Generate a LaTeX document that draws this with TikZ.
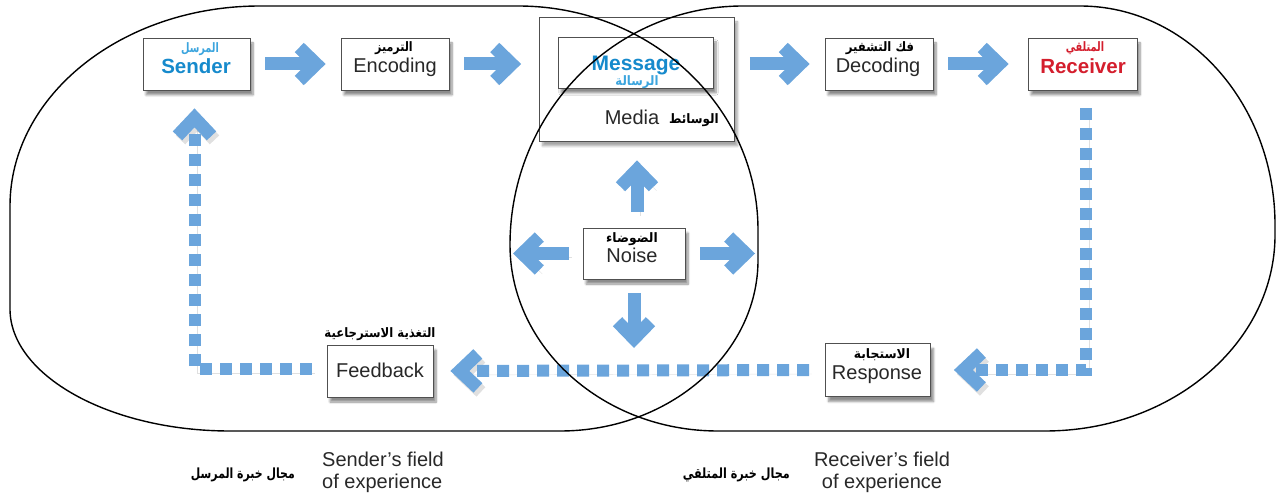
\documentclass[tikz,border=0pt]{standalone}
\usepackage{graphicx}
\usepackage{fontspec}
\setmainfont{Liberation Sans}
\newfontfamily\arabicfont[Script=Arabic]{DejaVu Sans}
\TeXXeTstate=1
\newcommand\arw[2][0.85]{\scalebox{#1}[1]{\beginR #2\endR}}
\usetikzlibrary{arrows.meta,shadows.blur}
\definecolor{flowblue}{RGB}{107,165,220}
\definecolor{sendblue}{RGB}{22,138,204}
\definecolor{sendblueA}{RGB}{60,165,222}
\definecolor{recred}{RGB}{212,30,45}
\definecolor{txtgray}{RGB}{40,40,40}
\definecolor{boxgray}{RGB}{80,80,80}
\tikzset{
  box/.style={draw=boxgray, line width=0.8pt, fill=white, inner sep=0pt,
    minimum width=#1, minimum height=52pt,
    blur shadow={shadow xshift=3pt, shadow yshift=-5pt, shadow blur steps=8, shadow opacity=45}},
  box/.default=107pt,
  ar/.style={font=\arabicfont\bfseries\fontsize{13}{13}\selectfont, inner sep=0pt, anchor=base, text=black},
  en/.style={font=\fontsize{20}{20}\selectfont, inner sep=0pt, anchor=base, text=txtgray},
  enb/.style={font=\bfseries\fontsize{20.5}{20.5}\selectfont, inner sep=0pt, anchor=base},
  arrshadow/.style={preaction={draw=black, draw opacity=0.12, transform canvas={shift={(3pt,-4pt)}}}},
  flow/.style={arrshadow, draw=flowblue, line width=13pt, -{Straight Barb[length=17pt,width=33pt,line width=13pt]},
    shorten <=15pt, shorten >=15pt},
  dflow/.style={arrshadow, draw=flowblue, line width=12pt, dash pattern=on 12pt off 8pt,
    -{Straight Barb[length=18pt,width=34pt,line width=13pt]}},
  field/.style={draw=black, line width=1.4pt}
}
\begin{document}
\begin{tikzpicture}[x=1pt,y=-1pt]
\useasboundingbox (0,0) rectangle (1279,494);
% boxes
\node[box] (sender) at (196.5,64) {};
\node[box=108pt] (encoding) at (395,64) {};
\node[draw=boxgray, line width=0.8pt, fill=white, minimum width=195pt, minimum height=124pt,
  blur shadow={shadow xshift=3pt, shadow yshift=-5pt, shadow blur steps=8, shadow opacity=35}] (media) at (637,79) {};
\node[box=155pt, minimum height=51pt] (message) at (635.5,62.5) {};
\node[box=108pt] (decoding) at (879,64) {};
\node[box=109pt] (receiver) at (1082.5,64) {};
\node[box=102pt, minimum height=51pt] (noise) at (634,253.5) {};
\node[box=106pt] (feedback) at (380,371) {};
\node[box=105pt, minimum height=53pt] (response) at (878,370) {};
% texts
\node[ar, text=sendblueA] (senderA) at (200,53) {\arw[0.75]{المرسل}};
\node[enb, text=sendblue] (senderE) at (196,74) {Sender};
\node[ar] (encodingA) at (394,52) {\arw{الترميز}};
\node[en] (encodingE) at (395,73) {Encoding};
\node[enb, text=sendblue, font=\bfseries\fontsize{21}{21}\selectfont] (messageE) at (636,71) {Message};
\node[ar, text=sendblueA] (messageA) at (637,86) {\arw[0.9]{الرسالة}};
\node[en] (mediaE) at (632,125) {Media};
\node[ar] (mediaA) at (694,124) {\arw[0.92]{الوسائط}};
\node[ar] (decodingA) at (880,52) {\arw[0.9]{فك التشفير}};
\node[en] (decodingE) at (878,73) {Decoding};
\node[ar, text=recred] (receiverA) at (1085,52) {\arw[0.75]{المتلقي}};
\node[enb, text=recred] (receiverE) at (1083,74) {Receiver};
\node[ar] (noiseA) at (632,243) {\arw[0.95]{الضوضاء}};
\node[en] (noiseE) at (632,263) {Noise};
\node[ar] (feedbackA) at (380,337) {\arw[0.9]{التغذية الاسترجاعية}};
\node[en] (feedbackE) at (380,377) {Feedback};
\node[ar] (responseA) at (882,358) {\arw[0.95]{الاستجابة}};
\node[en] (responseE) at (877,379) {Response};
\node[en, align=left, anchor=base west, font=\fontsize{20}{22}\selectfont] (sfield) at (322,488) {Sender’s field\\of experience};
\node[ar, font=\arabicfont\bfseries\fontsize{14}{14}\selectfont, anchor=base east] (sfieldA) at (295,478) {\arw[0.78]{مجال خبرة المرسل}};
\node[en, align=center, font=\fontsize{20}{22}\selectfont] (rfield) at (882,488) {Receiver’s field\\of experience};
\node[ar, font=\arabicfont\bfseries\fontsize{14}{14}\selectfont, anchor=base east] (rfieldA) at (790,478) {\arw[0.8]{مجال خبرة المتلقي}};
% free ends of noise arrows
\coordinate (nl) at (513,253.5);
\coordinate (nr) at (755,253.5);
\coordinate (nd) at (634,348);
% solid arrows
\draw[flow] (sender.east) -- (encoding.west);
\draw[flow, shorten >=18pt] (encoding.east) -- (encoding.east -| media.west);
\draw[flow] (decoding.west -| media.east) -- (decoding.west);
\draw[flow, shorten >=19pt] (decoding.east) -- (receiver.west);
\draw[flow, shorten <=16pt, shorten >=19pt] ([xshift=3pt]noise.north) -- ([xshift=3pt]noise.north |- media.south);
\draw[flow, shorten <=14pt, shorten >=0pt] (noise.west) -- (nl);
\draw[flow, shorten <=15pt, shorten >=0pt] (noise.east) -- (nr);
\draw[flow, shorten <=14pt, shorten >=0pt] (noise.south) -- (nd);
% dashed arrows
\draw[dflow, shorten <=18pt, shorten >=23pt] ([xshift=3.5pt]receiver.south) |- (response.east);
\draw[dflow, shorten <=16pt, shorten >=17pt] (response.west) -- (feedback.east);
\draw[dflow, shorten <=15pt, shorten >=18pt] ([yshift=2pt]feedback.west) -| ([xshift=-2pt]sender.south);
% fields of experience
\draw[field] (10,206) .. controls (10,95.6) and (122,6) .. (260,6)
  -- (518,6) .. controls (650.5,6) and (758,106.4) .. (758,230)
  -- (758,260) .. controls (758,354) and (669,431) .. (560,431)
  -- (230,431) .. controls (109,431) and (10,375) .. (10,309) -- cycle;
\draw[field] (510,245) .. controls (510,113) and (614,6) .. (743,6)
  -- (1080,6) .. controls (1188,6) and (1275,104) .. (1275,225)
  -- (1275,235) .. controls (1275,343) and (1172,431) .. (1045,431)
  -- (718,431) .. controls (603,431) and (510,347) .. (510,245) -- cycle;
\end{tikzpicture}
\end{document}
